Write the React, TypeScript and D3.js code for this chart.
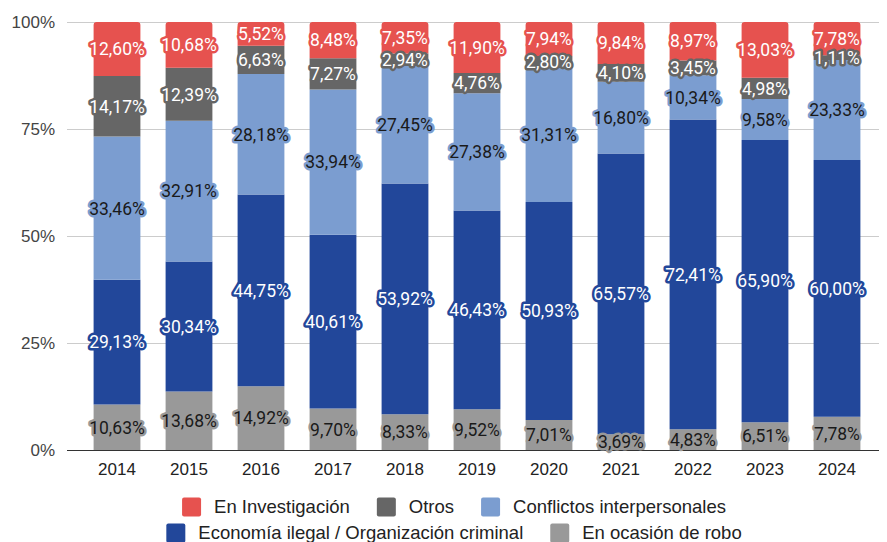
import React, { useEffect, useRef } from 'react'
import * as d3 from 'd3'

const years = ['2014', '2015', '2016', '2017', '2018', '2019', '2020', '2021', '2022', '2023', '2024']

// one array per series, bottom of the stack first
const robo = [10.63, 13.68, 14.92, 9.70, 8.33, 9.52, 7.01, 3.69, 4.83, 6.51, 7.78]
const economia = [29.13, 30.34, 44.75, 40.61, 53.92, 46.43, 50.93, 65.57, 72.41, 65.90, 60.00]
const conflictos = [33.46, 32.91, 28.18, 33.94, 27.45, 27.38, 31.31, 16.80, 10.34, 9.58, 23.33]
const otros = [14.17, 12.39, 6.63, 7.27, 2.94, 4.76, 2.80, 4.10, 3.45, 4.98, 1.11]
const investigacion = [12.60, 10.68, 5.52, 8.48, 7.35, 11.90, 7.94, 9.84, 8.97, 13.03, 7.78]

const seriesNames = ['En ocasión de robo', 'Economía ilegal / Organización criminal', 'Conflictos interpersonales', 'Otros', 'En Investigación']
const seriesValues = [robo, economia, conflictos, otros, investigacion]
const seriesColors = ['#999999', '#22479a', '#7b9dd0', '#666666', '#e6524f']
const labelColors = ['#1a1a1a', '#ffffff', '#1a1a1a', '#ffffff', '#ffffff']

const legendRows = [
  ['En Investigación', 'Otros', 'Conflictos interpersonales'],
  ['Economía ilegal / Organización criminal', 'En ocasión de robo'],
]

const yTicks = [0, 0.25, 0.5, 0.75, 1]

const width = 887
const height = 542
const fmt = (v: number) => v.toFixed(2).replace('.', ',') + '%'

export default function App() {
  const ref = useRef<SVGSVGElement>(null)

  useEffect(() => {
    const svg = d3.select(ref.current!)
    svg.selectAll('*').remove()

    const x = d3.scaleBand<string>()
      .domain(years)
      .range([81, 873])
      .paddingInner(0.35)
      .paddingOuter(0.175)
    const y = d3.scaleLinear().domain([0, 1]).range([450, 22])

    const rows = years.map((yr, i) => {
      const r: any = { year: yr }
      seriesNames.forEach((n, k) => { r[n] = seriesValues[k][i] / 100 })
      return r
    })
    const stacked = d3.stack<any>().keys(seriesNames)(rows)

    // grid
    const grid = svg.append('g')
    grid.selectAll('line').data(yTicks).join('line')
      .attr('x1', 67).attr('x2', 885)
      .attr('y1', d => y(d) + 0.5).attr('y2', d => y(d) + 0.5)
      .attr('stroke', d => d === 0 ? '#333' : '#ccc')
      .attr('stroke-width', 1)
    grid.selectAll('text').data(yTicks).join('text')
      .attr('x', 55).attr('y', d => y(d))
      .attr('dy', '0.35em')
      .attr('text-anchor', 'end')
      .attr('font-family', 'Liberation Sans, Arial, sans-serif')
      .attr('font-size', 17)
      .attr('fill', '#444')
      .text(d => d3.format('.0%')(d))

    // x labels
    svg.append('g').selectAll('text').data(years).join('text')
      .attr('x', d => x(d)! + x.bandwidth() / 2)
      .attr('y', 475)
      .attr('text-anchor', 'middle')
      .attr('font-family', 'Liberation Sans, Arial, sans-serif')
      .attr('font-size', 17)
      .attr('fill', '#222')
      .text(d => d)

    const bw = x.bandwidth()
    const rad = 3
    stacked.forEach((layer, k) => {
      const g = svg.append('g')
      const isTop = k === stacked.length - 1
      g.selectAll('path').data(layer).join('path')
        .attr('fill', seriesColors[k])
        .attr('d', d => {
          const x0 = x(d.data.year)!
          const y0 = y(d[1]), y1 = y(d[0])
          const p = d3.path()
          if (isTop) {
            p.moveTo(x0, y1)
            p.lineTo(x0, y0 + rad)
            p.arcTo(x0, y0, x0 + rad, y0, rad)
            p.lineTo(x0 + bw - rad, y0)
            p.arcTo(x0 + bw, y0, x0 + bw, y0 + rad, rad)
            p.lineTo(x0 + bw, y1)
            p.closePath()
          } else {
            p.rect(x0, y0, bw, y1 - y0)
          }
          return p.toString()
        })
    })

    // labels
    stacked.forEach((layer, k) => {
      svg.append('g').selectAll('text').data(layer).join('text')
        .attr('x', d => x(d.data.year)! + bw / 2)
        .attr('y', d => (y(d[0]) + y(d[1])) / 2)
        .attr('dy', '0.36em')
        .attr('text-anchor', 'middle')
        .attr('font-family', 'Roboto, sans-serif')
        .attr('font-size', 17.5)
        .attr('fill', labelColors[k])
        .attr('stroke', seriesColors[k])
        .attr('stroke-width', 5)
        .attr('stroke-linejoin', 'round')
        .attr('paint-order', 'stroke')
        .text(d => fmt(d[1] * 100 - d[0] * 100))
    })

    // legend
    const legend = svg.append('g')
    legendRows.forEach((names, r) => {
      const row = legend.append('g')
      let cx = 0
      names.forEach(n => {
        const k = seriesNames.indexOf(n)
        const item = row.append('g').attr('transform', `translate(${cx},0)`)
        item.append('rect')
          .attr('x', 0).attr('y', -9.5)
          .attr('width', 19).attr('height', 19)
          .attr('rx', 2)
          .attr('fill', seriesColors[k])
        const t = item.append('text')
          .attr('x', 32).attr('dy', '0.35em')
          .attr('font-family', 'Liberation Sans, Arial, sans-serif')
          .attr('font-size', 18.5)
          .attr('fill', '#222')
          .text(n)
        const tw = (t.node() as SVGTextElement).getComputedTextLength()
        cx += 32 + tw + 27
      })
      const total = cx - 27
      row.attr('transform', `translate(${454 - total / 2},${507 + r * 26})`)
    })
  }, [])

  return (
    <svg ref={ref} width={width} height={height} style={{ display: 'block', margin: '-8px 0 0 -8px' }} />
  )
}
